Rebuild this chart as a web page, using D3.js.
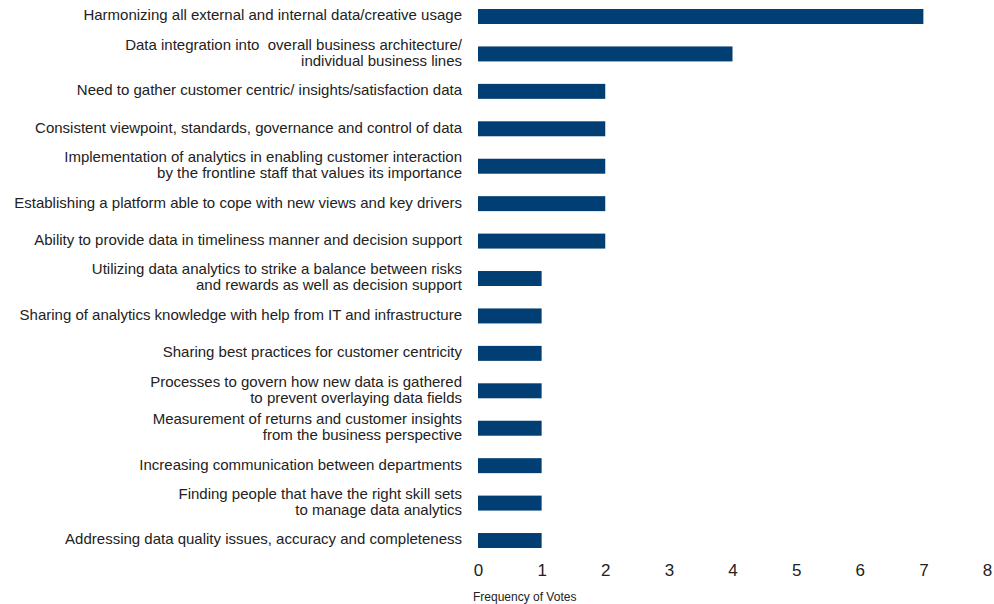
<!DOCTYPE html>
<html>
<head>
<meta charset="utf-8">
<script src="https://cdn.jsdelivr.net/npm/d3@7"></script>
<style>
  html, body { margin: 0; padding: 0; background: #fff; }
  svg text { font-family: "Liberation Sans", Arial, sans-serif; fill: #222; white-space: pre; }
</style>
</head>
<body>
<svg id="chart" width="994" height="604"></svg>
<script>
// Challenges listed, each label may span two lines
const categories = [
  ["Harmonizing all external and internal data/creative usage"],
  ["Data integration into  overall business architecture/", "individual business lines"],
  ["Need to gather customer centric/ insights/satisfaction data"],
  ["Consistent viewpoint, standards, governance and control of data"],
  ["Implementation of analytics in enabling customer interaction", "by the frontline staff that values its importance"],
  ["Establishing a platform able to cope with new views and key drivers"],
  ["Ability to provide data in timeliness manner and decision support"],
  ["Utilizing data analytics to strike a balance between risks", "and rewards as well as decision support"],
  ["Sharing of analytics knowledge with help from IT and infrastructure"],
  ["Sharing best practices for customer centricity"],
  ["Processes to govern how new data is gathered", "to prevent overlaying data fields"],
  ["Measurement of returns and customer insights", "from the business perspective"],
  ["Increasing communication between departments"],
  ["Finding people that have the right skill sets", "to manage data analytics"],
  ["Addressing data quality issues, accuracy and completeness"]
];
const votes = [7, 4, 2, 2, 2, 2, 2, 1, 1, 1, 1, 1, 1, 1, 1];
const xTicks = [0, 1, 2, 3, 4, 5, 6, 7, 8];
const xTitle = "Frequency of Votes";

const svg = d3.select("#chart");
const left = 478, right = 987;
const step = 37.43;
const firstCenter = 16.5;

const keys = categories.map((c, i) => i);
const x = d3.scaleLinear().domain([0, 8]).range([left, right]);
const y = d3.scaleBand()
  .domain(keys)
  .range([firstCenter - step / 2, firstCenter - step / 2 + step * keys.length])
  .paddingInner(0.6)
  .paddingOuter(0.3);

// Bars
svg.append("g")
  .selectAll("rect")
  .data(votes)
  .join("rect")
  .attr("x", x(0))
  .attr("y", (d, i) => y(i))
  .attr("width", d => x(d) - x(0))
  .attr("height", y.bandwidth())
  .attr("fill", "#003e73");

// Category labels, right-aligned next to the bars
const labelX = 462;
const lineH = 16;
const labels = svg.append("g")
  .selectAll("text")
  .data(categories)
  .join("text")
  .attr("text-anchor", "end")
  .attr("font-size", 15)
  .attr("transform", (d, i) => `translate(${labelX},${y(i) + y.bandwidth() / 2})`);
labels.each(function(lines) {
  const t = d3.select(this);
  const off = -(lines.length - 1) * lineH / 2;
  lines.forEach((ln, j) => {
    t.append("tspan")
      .attr("x", 0)
      .attr("y", off + j * lineH)
      .attr("dy", "0.26em")
      .text(ln);
  });
});

// X axis: tick labels only
const axis = d3.axisBottom(x).tickValues(xTicks).tickSize(0).tickPadding(0).tickFormat(d3.format("d"));
const ax = svg.append("g").attr("transform", "translate(0,564)").call(axis);
ax.select(".domain").remove();
ax.selectAll("text")
  .attr("font-size", 17)
  .attr("fill", "#222")
  .style("font-family", "'Liberation Sans', Arial, sans-serif");

// Axis title
svg.append("text")
  .attr("x", 473)
  .attr("y", 601)
  .attr("font-size", 12)
  .text(xTitle);
</script>
</body>
</html>
